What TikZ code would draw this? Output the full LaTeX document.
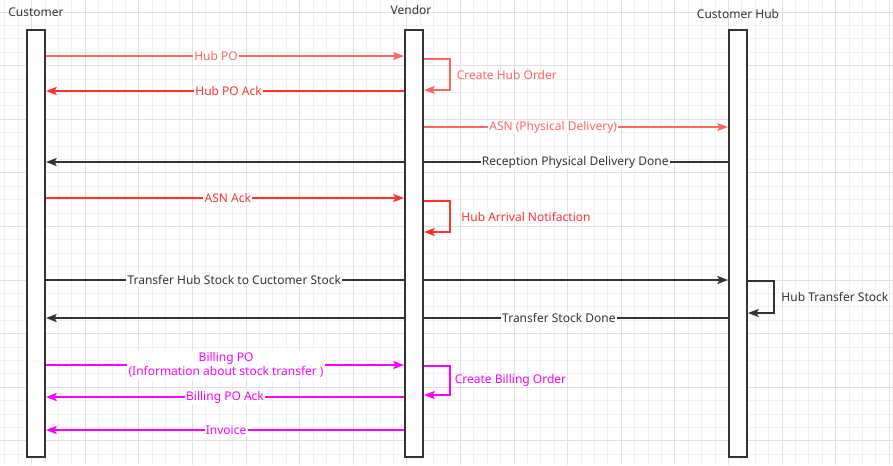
\documentclass[tikz,border=0pt]{standalone}
\usepackage{fontspec}
\setmainfont{Noto Sans}
\usetikzlibrary{arrows.meta}
\pgfdeclarelayer{grid}
\pgfdeclarelayer{msgs}
\pgfsetlayers{grid,msgs,main}
\definecolor{lred}{HTML}{FF6666}
\definecolor{sred}{HTML}{FF3333}
\definecolor{dk}{HTML}{333333}
\definecolor{mag}{HTML}{FF00FF}
\definecolor{gmin}{HTML}{F0F0F0}
\definecolor{gmaj}{HTML}{E0E0E0}

\begin{document}
\begin{tikzpicture}[x=0.75pt,y=-0.75pt,font=\fontsize{9}{10.5}\selectfont]
	\tikzstyle{life}=[draw=dk, line width=1.5pt, fill=white, minimum width=13.5pt, minimum height=320.25pt, inner sep=0pt]
	\tikzstyle{head}=[text=dk]
	\tikzstyle{msg}=[line width=1.2pt, -{Stealth[length=8pt,width=6pt,inset=1.5pt]}]
	\tikzstyle{lbl}=[fill=white, inner sep=1pt, align=center]
	\tikzstyle{note}=[inner sep=1pt]

	\useasboundingbox (0,0) rectangle (893,465);

	% background grid
	\begin{pgfonlayer}{grid}
		\fill[white] (0,0) rectangle (893,465);
		\foreach \i in {0,...,66}
		\draw[gmin, line width=0.75pt] (4.9+\i*13.4,0) -- (4.9+\i*13.4,465);
		\foreach \i in {0,...,33}
		\draw[gmin, line width=0.75pt] (0,12.1+\i*13.4) -- (893,12.1+\i*13.4);
		\foreach \i in {0,...,16}
		\draw[gmaj, line width=0.75pt] (31.7+\i*53.6,0) -- (31.7+\i*53.6,465);
		\foreach \i in {0,...,8}
		\draw[gmaj, line width=0.75pt] (0,12.1+\i*53.6) -- (893,12.1+\i*53.6);
	\end{pgfonlayer}

	% lifelines
	\node[head] (tcust) at (36,12) {Customer};
	\node[head] (tvend) at (411,10) {Vendor};
	\node[head] (thub) at (738,14) {Customer Hub};
	\node[life] (cust) at (36,243.5) {};
	\node[life] (vend) at (414,243.5) {};
	\node[life] (hub) at (738,243.5) {};

	% message levels
	\foreach \n/\y in {hpo/56,cho1/59,cho2/90,hpoack/91,asn/127,recep/162,asnack/198,han1/201,han2/232,
		thub/280,hts1/281,hts2/313,tsd/318,bpo/365,cbo1/366,cbo2/395,bpoack/397,inv/430}
	\coordinate (\n) at (0,\y);

	\begin{pgfonlayer}{msgs}
		\foreach \from/\to/\m/\col/\p/\txt in {
			cust.east/vend.west/hpo/lred/0.475/{Hub PO},
			vend.west/cust.east/hpoack/sred/0.49/{Hub PO Ack},
			vend.east/hub.west/asn/lred/0.425/{ASN (Physical Delivery)},
			hub.west/cust.east/recep/dk/0.224/{Reception Physical Delivery Done},
			cust.east/vend.west/asnack/sred/0.508/{ASN Ack},
			cust.east/hub.west/thub/dk/0.276/{Transfer Hub Stock to Cuctomer Stock},
			hub.west/cust.east/tsd/dk/0.248/{Transfer Stock Done},
			cust.east/vend.west/bpo/mag/0.503/{Billing PO\\(Information about stock transfer )},
			vend.west/cust.east/bpoack/mag/0.5/{Billing PO Ack},
			vend.west/cust.east/inv/mag/0.497/{Invoice}}
		\draw[msg,\col] (\from |- \m) -- node[lbl,pos=\p,text=\col] {\txt} (\to |- \m);

		% self calls
		\draw[msg,lred] (vend.east |- cho1) -- ++(26,0) |- node[note,pos=0.25,right=3.5pt,text=lred] {Create Hub Order} (vend.east |- cho2);
		\draw[msg,sred] (vend.east |- han1) -- ++(26,0) |- node[note,pos=0.25,right=7pt,text=sred] {Hub Arrival Notifaction} (vend.east |- han2);
		\draw[msg,dk] (hub.east |- hts1) -- ++(26,0) |- node[note,pos=0.25,right=4pt,text=dk] {Hub Transfer Stock} (hub.east |- hts2);
		\draw[msg,mag] (vend.east |- cbo1) -- ++(26,0) |- node[note,pos=0.25,right=2pt,text=mag] {Create Billing Order} (vend.east |- cbo2);
	\end{pgfonlayer}
\end{tikzpicture}
\end{document}
